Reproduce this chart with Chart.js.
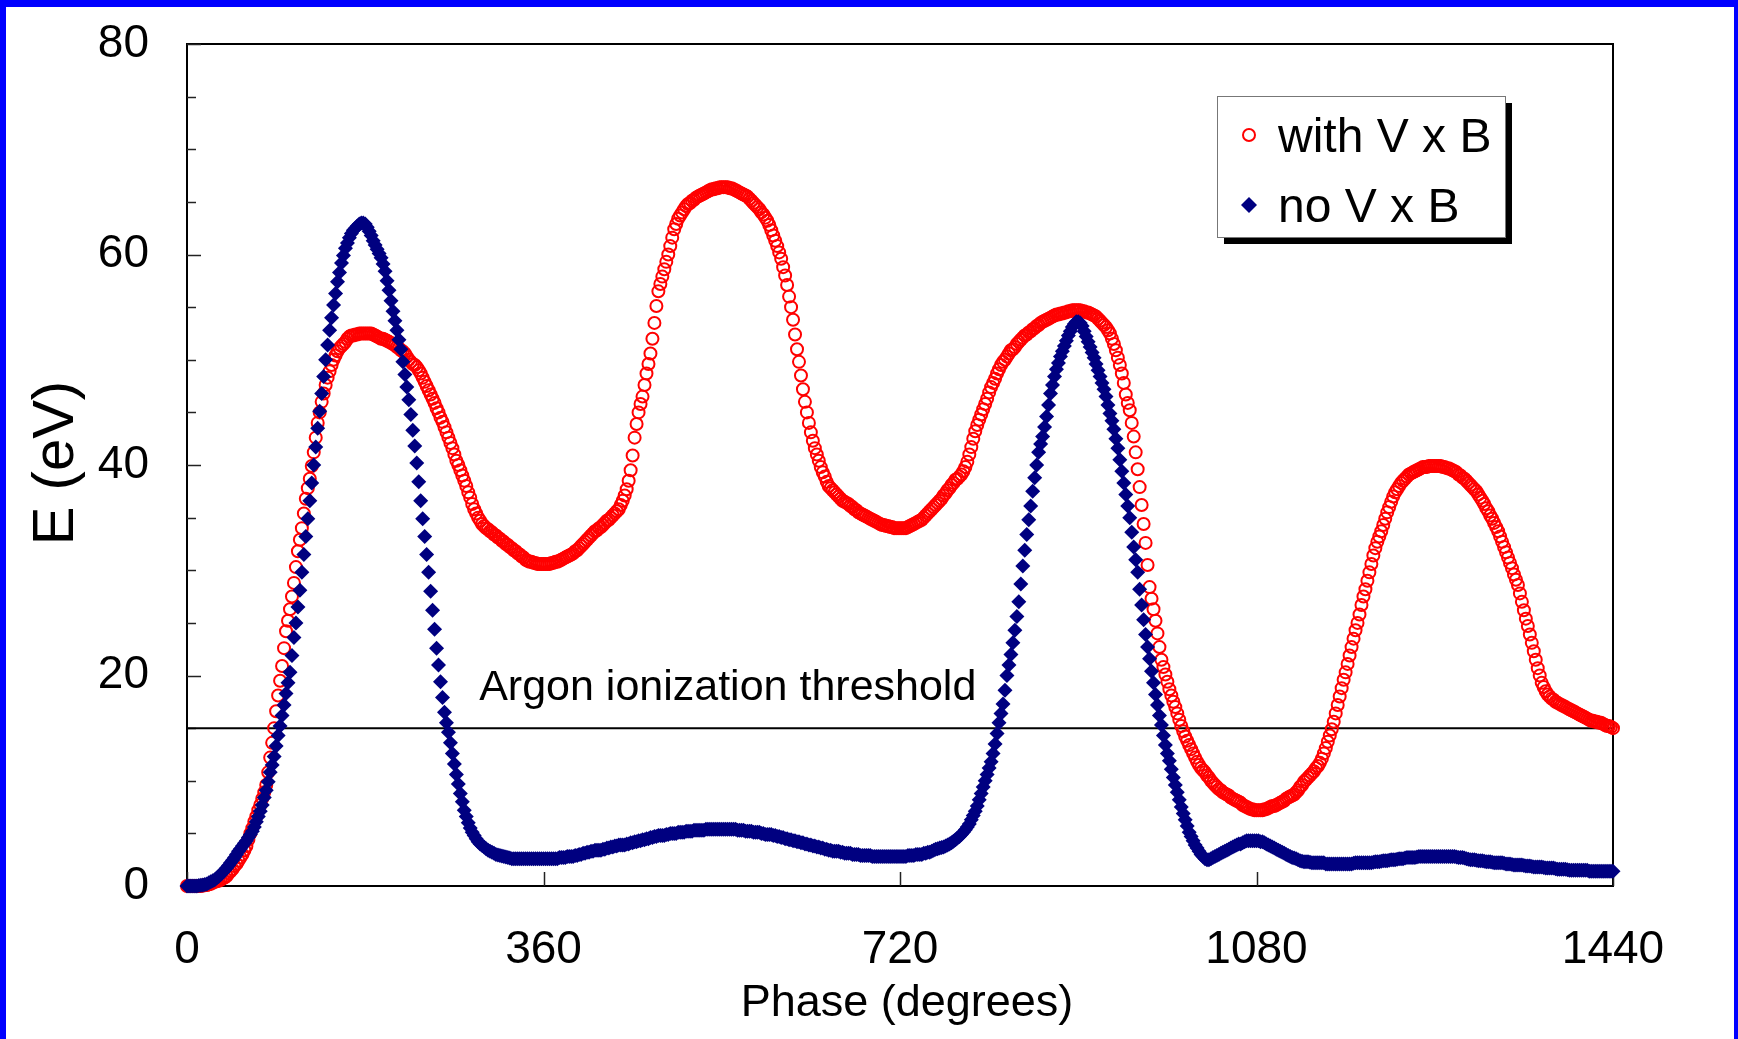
<!DOCTYPE html>
<html>
<head>
<meta charset="utf-8">
<script src="https://cdn.jsdelivr.net/npm/chart.js@4.4.1/dist/chart.umd.min.js"></script>
<style>
  html, body { margin: 0; padding: 0; background: #fff; }
  #wrap { position: relative; width: 1738px; height: 1039px; overflow: hidden; }
  #frame { position: absolute; left: 0; top: 0; right: 0; bottom: 0; box-sizing: border-box;
           border-top: 7px solid #0000ff; border-left: 6px solid #0000ff; border-right: 4px solid #0000ff;
           pointer-events: none; }
</style>
</head>
<body>
<div id="wrap">
  <canvas id="chart" width="1738" height="1039"></canvas>
  <div id="frame"></div>
</div>
<script>
// energy (eV) every 2 degrees of phase, 0..1440 (10 values = 20 degrees per row)
var phaseStep = 2;

var withVxB = [
  0, 0, 0, 0, 0, 0, 0, 0, 0.05, 0.07,                         // 0
  0.1, 0.15, 0.2, 0.3, 0.4, 0.45, 0.5, 0.6, 0.7, 0.8,         // 20
  0.95, 1.2, 1.4, 1.6, 1.9, 2.1, 2.4, 2.7, 3.0, 3.4,          // 40
  3.8, 4.4, 5.0, 5.5, 6.1, 6.6, 7.2, 7.7, 8.3, 8.9,           // 60
  9.6, 10.8, 12.2, 13.6, 15.0, 16.6, 18.1, 19.5, 20.9, 22.6,  // 80
  24.2, 25.2, 26.3, 27.5, 28.8, 30.3, 31.8, 32.9, 34.0, 35.4, // 100
  36.8, 37.8, 38.7, 39.9, 41.2, 42.6, 44.0, 45.0, 46.0, 46.8, // 120
  47.6, 48.3, 48.9, 49.5, 50.0, 50.4, 50.8, 51.1, 51.3, 51.5, // 140
  51.7, 52.0, 52.2, 52.3, 52.3, 52.4, 52.4, 52.5, 52.5, 52.5, // 160
  52.5, 52.5, 52.5, 52.5, 52.4, 52.3, 52.2, 52.1, 52.0, 52.0, // 180
  51.9, 51.8, 51.7, 51.6, 51.5, 51.4, 51.2, 51.1, 50.9, 50.8, // 200
  50.6, 50.3, 50.0, 49.8, 49.6, 49.5, 49.3, 49.0, 48.7, 48.3, // 220
  47.9, 47.5, 47.1, 46.7, 46.3, 45.9, 45.4, 45.0, 44.5, 44.1, // 240
  43.6, 43.1, 42.6, 42.1, 41.6, 41.0, 40.4, 40.0, 39.5, 39.0, // 260
  38.5, 38.0, 37.4, 36.9, 36.3, 35.8, 35.4, 35.0, 34.7, 34.4, // 280
  34.2, 34.0, 33.9, 33.7, 33.6, 33.4, 33.3, 33.1, 33.0, 32.8, // 300
  32.7, 32.5, 32.4, 32.2, 32.1, 31.9, 31.8, 31.6, 31.5, 31.3, // 320
  31.2, 31.0, 30.9, 30.8, 30.8, 30.7, 30.7, 30.6, 30.6, 30.6, // 340
  30.6, 30.6, 30.6, 30.6, 30.7, 30.7, 30.8, 30.8, 30.9, 31.0, // 360
  31.1, 31.2, 31.3, 31.4, 31.5, 31.6, 31.8, 31.9, 32.1, 32.3, // 380
  32.5, 32.7, 32.9, 33.1, 33.3, 33.5, 33.7, 33.8, 34.0, 34.1, // 400
  34.3, 34.5, 34.7, 34.8, 35.0, 35.2, 35.4, 35.6, 35.8, 36.2, // 420
  36.6, 37.1, 37.7, 38.5, 39.5, 40.9, 42.6, 43.9, 45.0, 45.8, // 440
  46.5, 47.6, 48.7, 49.6, 50.6, 52.0, 53.5, 55.1, 56.5, 57.2, // 460
  57.9, 58.6, 59.3, 60.0, 60.8, 61.6, 62.4, 62.9, 63.4, 63.7, // 480
  64.0, 64.3, 64.6, 64.8, 64.9, 65.1, 65.2, 65.4, 65.5, 65.6, // 500
  65.7, 65.8, 65.9, 66.0, 66.1, 66.2, 66.2, 66.3, 66.3, 66.4, // 520
  66.4, 66.4, 66.4, 66.4, 66.3, 66.3, 66.2, 66.1, 66.0, 65.9, // 540
  65.8, 65.7, 65.6, 65.5, 65.3, 65.1, 64.9, 64.7, 64.5, 64.3, // 560
  64.0, 63.8, 63.5, 63.2, 62.8, 62.3, 61.8, 61.3, 60.8, 60.2, // 580
  59.6, 58.8, 58.0, 57.1, 56.0, 55.0, 53.8, 52.4, 51.0, 49.8, // 600
  48.5, 47.2, 46.0, 45.0, 44.0, 43.1, 42.3, 41.6, 41.0, 40.4, // 620
  39.8, 39.3, 38.9, 38.4, 38.0, 37.8, 37.6, 37.4, 37.2, 37.0, // 640
  36.8, 36.6, 36.5, 36.4, 36.3, 36.1, 36.0, 35.8, 35.7, 35.5, // 660
  35.4, 35.3, 35.2, 35.1, 35.0, 34.9, 34.8, 34.7, 34.6, 34.5, // 680
  34.4, 34.3, 34.3, 34.2, 34.2, 34.1, 34.1, 34.0, 34.0, 34.0, // 700
  34.0, 34.0, 34.0, 34.0, 34.1, 34.2, 34.3, 34.4, 34.5, 34.6, // 720
  34.7, 34.8, 35.0, 35.2, 35.4, 35.6, 35.8, 36.0, 36.2, 36.4, // 740
  36.6, 36.8, 37.1, 37.3, 37.6, 37.8, 38.1, 38.3, 38.6, 38.7, // 760
  38.9, 39.1, 39.4, 39.8, 40.3, 41.0, 41.7, 42.5, 43.2, 43.8, // 780
  44.3, 44.8, 45.3, 45.8, 46.3, 46.9, 47.4, 47.8, 48.2, 48.7, // 800
  49.1, 49.5, 49.8, 50.0, 50.3, 50.6, 50.9, 51.0, 51.2, 51.5, // 820
  51.7, 51.9, 52.1, 52.3, 52.4, 52.6, 52.7, 52.9, 53.0, 53.2, // 840
  53.3, 53.5, 53.6, 53.7, 53.8, 53.9, 54.0, 54.1, 54.2, 54.3, // 860
  54.3, 54.4, 54.4, 54.5, 54.5, 54.6, 54.6, 54.7, 54.7, 54.7, // 880
  54.7, 54.7, 54.6, 54.6, 54.5, 54.5, 54.4, 54.3, 54.2, 54.1, // 900
  53.9, 53.7, 53.5, 53.3, 53.1, 52.8, 52.5, 52.0, 51.5, 50.9, // 920
  50.2, 49.5, 48.7, 47.8, 46.7, 45.9, 45.2, 44.0, 42.7, 41.2, // 940
  39.6, 37.9, 36.2, 34.4, 32.6, 30.5, 28.4, 27.3, 26.3, 25.2, // 960
  24.0, 22.7, 21.5, 20.8, 20.1, 19.4, 18.7, 18.1, 17.5, 17.0, // 980
  16.4, 15.8, 15.2, 14.7, 14.2, 13.8, 13.4, 13.0, 12.6, 12.2, // 1000
  11.8, 11.5, 11.2, 11.0, 10.8, 10.5, 10.3, 10.0, 9.8, 9.6,   // 1020
  9.4, 9.2, 9.1, 8.9, 8.8, 8.7, 8.6, 8.4, 8.3, 8.2,           // 1040
  8.1, 8.0, 7.9, 7.7, 7.6, 7.5, 7.4, 7.3, 7.3, 7.2,           // 1060
  7.2, 7.2, 7.2, 7.2, 7.3, 7.3, 7.4, 7.5, 7.6, 7.6,           // 1080
  7.7, 7.8, 7.9, 8.0, 8.1, 8.3, 8.4, 8.5, 8.6, 8.7,           // 1100
  8.9, 9.1, 9.4, 9.6, 9.9, 10.1, 10.3, 10.5, 10.7, 10.9,      // 1120
  11.2, 11.4, 11.7, 12.1, 12.6, 13.1, 13.7, 14.3, 14.9, 15.6, // 1140
  16.4, 17.2, 18.0, 18.8, 19.6, 20.3, 21.1, 21.9, 22.7, 23.5, // 1160
  24.3, 25.0, 25.8, 26.7, 27.5, 28.2, 29.0, 29.8, 30.6, 31.4, // 1180
  32.1, 32.7, 33.2, 33.7, 34.3, 34.9, 35.5, 36.0, 36.5, 37.0, // 1200
  37.4, 37.7, 38.0, 38.3, 38.5, 38.7, 38.9, 39.1, 39.2, 39.3, // 1220
  39.4, 39.5, 39.6, 39.7, 39.8, 39.8, 39.8, 39.9, 39.9, 39.9, // 1240
  39.9, 39.9, 39.9, 39.9, 39.8, 39.8, 39.7, 39.7, 39.6, 39.5, // 1260
  39.4, 39.3, 39.1, 39.0, 38.8, 38.7, 38.5, 38.3, 38.1, 37.9, // 1280
  37.7, 37.5, 37.2, 36.9, 36.6, 36.3, 35.9, 35.6, 35.2, 34.9, // 1300
  34.5, 34.1, 33.7, 33.2, 32.7, 32.2, 31.7, 31.2, 30.7, 30.2, // 1320
  29.6, 29.1, 28.6, 27.8, 27.0, 26.2, 25.4, 24.7, 23.9, 23.1, // 1340
  22.3, 21.5, 20.7, 20.0, 19.3, 18.9, 18.5, 18.2, 18.0, 17.8, // 1360
  17.7, 17.5, 17.4, 17.3, 17.2, 17.1, 17.0, 16.9, 16.8, 16.7, // 1380
  16.6, 16.5, 16.4, 16.3, 16.2, 16.1, 16.0, 15.9, 15.8, 15.7, // 1400
  15.7, 15.6, 15.6, 15.5, 15.5, 15.4, 15.3, 15.2, 15.2, 15.1, // 1420
  15.0                                                        // 1440
];

var noVxB = [
  0, 0, 0, 0, 0, 0, 0.05, 0.07, 0.1, 0.15,                    // 0
  0.2, 0.3, 0.4, 0.5, 0.6, 0.75, 0.9, 1.1, 1.3, 1.5,          // 20
  1.7, 1.95, 2.2, 2.45, 2.7, 3.0, 3.3, 3.55, 3.8, 4.05,       // 40
  4.3, 4.6, 4.9, 5.2, 5.6, 6.1, 6.6, 7.1, 7.7, 8.4,           // 60
  9.1, 9.9, 10.8, 11.5, 12.3, 13.3, 14.3, 15.2, 16.2, 17.2,   // 80
  18.3, 19.3, 20.3, 21.9, 23.6, 25.0, 26.5, 28.1, 29.8, 31.5, // 100
  33.2, 34.9, 36.6, 38.3, 40.0, 41.7, 43.5, 45.1, 46.8, 48.4, // 120
  50.0, 51.4, 52.8, 54.0, 55.2, 56.3, 57.4, 58.3, 59.2, 59.9, // 140
  60.6, 61.1, 61.6, 62.0, 62.3, 62.5, 62.7, 62.9, 63.0, 63.0, // 160
  62.9, 62.6, 62.2, 61.8, 61.3, 60.9, 60.5, 60.1, 59.7, 59.1, // 180
  58.4, 57.5, 56.6, 55.6, 54.6, 53.7, 52.8, 51.9, 51.0, 49.8, // 200
  48.6, 47.4, 46.2, 44.8, 43.3, 41.8, 40.2, 38.4, 36.6, 34.9, // 220
  33.2, 31.5, 29.8, 28.0, 26.2, 24.4, 22.6, 21.0, 19.4, 17.9, // 240
  16.5, 15.5, 14.6, 13.6, 12.6, 11.6, 10.6, 9.7, 8.8, 8.0,    // 260
  7.2, 6.6, 6.0, 5.5, 5.1, 4.8, 4.5, 4.2, 4.0, 3.85,          // 280
  3.7, 3.55, 3.4, 3.3, 3.2, 3.1, 3.0, 2.95, 2.9, 2.85,        // 300
  2.8, 2.75, 2.7, 2.65, 2.6, 2.6, 2.6, 2.6, 2.6, 2.6,         // 320
  2.6, 2.6, 2.6, 2.6, 2.6, 2.6, 2.6, 2.6, 2.6, 2.6,           // 340
  2.6, 2.6, 2.6, 2.6, 2.6, 2.6, 2.6, 2.6, 2.7, 2.7,           // 360
  2.7, 2.7, 2.8, 2.8, 2.8, 2.8, 2.9, 2.9, 3.0, 3.0,           // 380
  3.1, 3.1, 3.2, 3.2, 3.3, 3.3, 3.4, 3.4, 3.4, 3.4,           // 400
  3.5, 3.5, 3.6, 3.6, 3.7, 3.7, 3.8, 3.8, 3.9, 3.9,           // 420
  3.9, 3.9, 4.0, 4.0, 4.1, 4.1, 4.2, 4.2, 4.3, 4.3,           // 440
  4.4, 4.4, 4.5, 4.5, 4.6, 4.6, 4.7, 4.7, 4.8, 4.8,           // 460
  4.8, 4.8, 4.9, 4.9, 5.0, 5.0, 5.0, 5.0, 5.1, 5.1,           // 480
  5.1, 5.1, 5.2, 5.2, 5.2, 5.2, 5.3, 5.3, 5.3, 5.3,           // 500
  5.3, 5.3, 5.4, 5.4, 5.4, 5.4, 5.4, 5.4, 5.4, 5.4,           // 520
  5.4, 5.4, 5.4, 5.4, 5.4, 5.4, 5.4, 5.4, 5.3, 5.3,           // 540
  5.3, 5.3, 5.2, 5.2, 5.2, 5.2, 5.1, 5.1, 5.1, 5.1,           // 560
  5.0, 5.0, 4.9, 4.9, 4.9, 4.9, 4.8, 4.8, 4.7, 4.7,           // 580
  4.6, 4.6, 4.5, 4.5, 4.4, 4.4, 4.3, 4.3, 4.2, 4.2,           // 600
  4.1, 4.1, 4.0, 4.0, 3.9, 3.9, 3.8, 3.8, 3.7, 3.7,           // 620
  3.6, 3.6, 3.5, 3.5, 3.4, 3.4, 3.3, 3.3, 3.3, 3.3,           // 640
  3.2, 3.2, 3.1, 3.1, 3.1, 3.1, 3.0, 3.0, 3.0, 3.0,           // 660
  2.9, 2.9, 2.9, 2.9, 2.9, 2.9, 2.8, 2.8, 2.8, 2.8,           // 680
  2.8, 2.8, 2.8, 2.8, 2.8, 2.8, 2.8, 2.8, 2.8, 2.8,           // 700
  2.8, 2.8, 2.8, 2.8, 2.9, 2.9, 2.9, 2.9, 3.0, 3.0,           // 720
  3.0, 3.0, 3.1, 3.1, 3.2, 3.2, 3.3, 3.4, 3.5, 3.55,          // 740
  3.6, 3.65, 3.7, 3.8, 3.9, 4.0, 4.1, 4.25, 4.4, 4.55,        // 760
  4.7, 4.9, 5.1, 5.35, 5.6, 5.9, 6.3, 6.7, 7.1, 7.6,          // 780
  8.2, 8.8, 9.4, 10.0, 10.6, 11.2, 11.8, 12.6, 13.5, 14.5,    // 800
  15.5, 16.4, 17.3, 18.6, 20.0, 21.0, 22.0, 23.1, 24.3, 25.6, // 820
  27.0, 28.7, 30.4, 31.9, 33.4, 34.8, 36.1, 37.5, 38.8, 40.0, // 840
  41.2, 42.0, 42.7, 43.6, 44.6, 45.7, 46.8, 47.6, 48.4, 49.1, // 860
  49.7, 50.3, 50.8, 51.3, 51.8, 52.3, 52.7, 53.1, 53.4, 53.6, // 880
  53.6, 53.5, 53.2, 52.7, 52.2, 51.7, 51.2, 50.7, 50.2, 49.6, // 900
  49.0, 48.4, 47.8, 47.2, 46.5, 45.7, 44.9, 44.2, 43.4, 42.5, // 920
  41.6, 40.5, 39.4, 38.3, 37.2, 36.1, 35.0, 33.6, 32.2, 31.0, // 940
  29.8, 28.2, 26.7, 25.3, 23.9, 22.7, 21.6, 20.4, 19.3, 18.2, // 960
  17.2, 16.2, 15.3, 14.3, 13.4, 12.6, 11.9, 11.1, 10.3, 9.6,  // 980
  8.9, 8.2, 7.5, 6.9, 6.3, 5.7, 5.1, 4.7, 4.3, 3.9,           // 1000
  3.6, 3.3, 3.0, 2.8, 2.6, 2.5, 2.5, 2.6, 2.7, 2.8,           // 1020
  2.9, 3.0, 3.1, 3.2, 3.3, 3.4, 3.5, 3.6, 3.7, 3.8,           // 1040
  3.9, 4.0, 4.0, 4.1, 4.2, 4.3, 4.3, 4.3, 4.3, 4.3,           // 1060
  4.3, 4.3, 4.2, 4.2, 4.1, 4.0, 3.9, 3.8, 3.7, 3.6,           // 1080
  3.5, 3.4, 3.3, 3.2, 3.1, 3.0, 2.9, 2.8, 2.7, 2.65,          // 1100
  2.6, 2.5, 2.4, 2.35, 2.3, 2.3, 2.3, 2.25, 2.2, 2.2,         // 1120
  2.2, 2.2, 2.2, 2.2, 2.2, 2.1, 2.1, 2.1, 2.1, 2.1,           // 1140
  2.1, 2.1, 2.1, 2.1, 2.1, 2.1, 2.1, 2.1, 2.1, 2.15,          // 1160
  2.2, 2.2, 2.2, 2.2, 2.2, 2.2, 2.2, 2.2, 2.2, 2.25,          // 1180
  2.3, 2.3, 2.3, 2.35, 2.4, 2.4, 2.4, 2.45, 2.5, 2.5,         // 1200
  2.5, 2.55, 2.6, 2.6, 2.6, 2.65, 2.7, 2.7, 2.7, 2.7,         // 1220
  2.7, 2.75, 2.8, 2.8, 2.8, 2.8, 2.8, 2.8, 2.8, 2.8,          // 1240
  2.8, 2.8, 2.8, 2.8, 2.8, 2.8, 2.8, 2.8, 2.8, 2.8,           // 1260
  2.8, 2.75, 2.7, 2.7, 2.7, 2.65, 2.6, 2.55, 2.5, 2.5,        // 1280
  2.5, 2.45, 2.4, 2.4, 2.4, 2.35, 2.3, 2.3, 2.3, 2.25,        // 1300
  2.2, 2.2, 2.2, 2.2, 2.2, 2.15, 2.1, 2.1, 2.1, 2.05,         // 1320
  2.0, 2.0, 2.0, 2.0, 2.0, 1.95, 1.9, 1.9, 1.9, 1.85,         // 1340
  1.8, 1.8, 1.8, 1.8, 1.8, 1.75, 1.7, 1.7, 1.7, 1.7,          // 1360
  1.7, 1.65, 1.6, 1.6, 1.6, 1.6, 1.6, 1.55, 1.5, 1.5,         // 1380
  1.5, 1.5, 1.5, 1.5, 1.5, 1.5, 1.5, 1.5, 1.4, 1.4,           // 1400
  1.4, 1.4, 1.4, 1.4, 1.4, 1.4, 1.4, 1.4, 1.4, 1.4,           // 1420
  1.4                                                         // 1440
];

var seriesNames = ["with V x B", "no V x B"];
var thresholdEv = 15;
var thresholdLabel = "Argon ionization threshold";
var xTitle = "Phase (degrees)";
var yTitle = "E (eV)";
var xTicks = [0, 360, 720, 1080, 1440];
var yMajorStep = 20;
var yMinorStep = 5;

var fontFamily = '"Liberation Sans", Arial, sans-serif';

function toPoints(values) {
  return values.map(function(v, i) { return {x: i * phaseStep, y: v}; });
}

// frame, inward ticks, axis titles, threshold text and the boxed legend with its shadow
var decorPlugin = {
  id: 'decor',
  beforeDatasetsDraw: function(chart) {
    var ctx = chart.ctx, a = chart.chartArea, xs = chart.scales.x, ys = chart.scales.y;
    ctx.save();
    ctx.strokeStyle = '#000';
    ctx.lineWidth = 2;
    ctx.strokeRect(a.left, a.top, a.right - a.left, a.bottom - a.top);

    ctx.lineWidth = 1.5;
    ctx.strokeStyle = '#222';
    ys.ticks.forEach(function(t) {
      var py = Math.round(ys.getPixelForValue(t.value)) + 0.5;
      var len = (t.value % yMajorStep === 0) ? 14 : 9;
      ctx.beginPath(); ctx.moveTo(a.left, py); ctx.lineTo(a.left + len, py); ctx.stroke();
    });
    xTicks.forEach(function(v) {
      var px = Math.round(xs.getPixelForValue(v)) + 0.5;
      ctx.beginPath(); ctx.moveTo(px, a.bottom); ctx.lineTo(px, a.bottom - 14); ctx.stroke();
    });

    ctx.fillStyle = '#000';
    ctx.font = '43px ' + fontFamily;
    ctx.textAlign = 'left';
    ctx.textBaseline = 'alphabetic';
    ctx.fillText(thresholdLabel, xs.getPixelForValue(295), ys.getPixelForValue(thresholdEv) - 28);

    // axis titles
    ctx.textAlign = 'center';
    ctx.textBaseline = 'middle';
    ctx.font = '45px ' + fontFamily;
    ctx.fillText(xTitle, (a.left + a.right) / 2 + 7, a.bottom + 118);
    ctx.translate(a.left - 130, (a.top + a.bottom) / 2 - 2);
    ctx.rotate(-Math.PI / 2);
    ctx.font = '58px ' + fontFamily;
    ctx.fillText(yTitle, 0, 0);
    ctx.restore();
  },
  afterDraw: function(chart) {
    var ctx = chart.ctx, a = chart.chartArea;
    var bx = a.right - 396, by = a.top + 52, bw = 288, bh = 141;
    ctx.save();
    ctx.fillStyle = '#000';
    ctx.fillRect(bx + 7, by + 7, bw, bh);
    ctx.fillStyle = '#fff';
    ctx.fillRect(bx, by, bw, bh);
    ctx.strokeStyle = '#777';
    ctx.lineWidth = 1;
    ctx.strokeRect(bx + 0.5, by + 0.5, bw, bh);

    // red open circle
    ctx.strokeStyle = '#ff0000';
    ctx.lineWidth = 2;
    ctx.beginPath();
    ctx.arc(bx + 32, by + 39, 6, 0, Math.PI * 2);
    ctx.stroke();
    // navy diamond
    ctx.fillStyle = '#000080';
    ctx.beginPath();
    ctx.moveTo(bx + 32, by + 101);
    ctx.lineTo(bx + 40, by + 109);
    ctx.lineTo(bx + 32, by + 117);
    ctx.lineTo(bx + 24, by + 109);
    ctx.closePath();
    ctx.fill();

    ctx.fillStyle = '#000';
    ctx.font = '48px ' + fontFamily;
    ctx.textBaseline = 'alphabetic';
    ctx.fillText(seriesNames[0], bx + 61, by + 56);
    ctx.fillText(seriesNames[1], bx + 61, by + 126);
    ctx.restore();
  }
};

var chart = new Chart(document.getElementById('chart'), {
  type: 'scatter',
  data: {
    datasets: [
      {
        label: seriesNames[1],
        data: toPoints(noVxB),
        pointStyle: 'rectRot',
        pointRadius: 7.5,
        pointBackgroundColor: '#000080',
        pointBorderColor: '#000080',
        pointBorderWidth: 0,
        showLine: false,
        clip: false,
        order: 0
      },
      {
        label: seriesNames[0],
        data: toPoints(withVxB),
        pointStyle: 'circle',
        pointRadius: 6,
        pointBackgroundColor: 'rgba(255,255,255,0)',
        pointBorderColor: '#ff0000',
        pointBorderWidth: 2,
        showLine: false,
        clip: false,
        order: 1
      },
      {
        type: 'line',
        label: thresholdLabel,
        data: [{x: 0, y: thresholdEv}, {x: 1440, y: thresholdEv}],
        borderColor: '#000',
        borderWidth: 2,
        pointRadius: 0,
        order: 2
      }
    ]
  },
  options: {
    responsive: false,
    animation: false,
    devicePixelRatio: 1,
    layout: { padding: { left: 0, top: 44, right: 125, bottom: 0 } },
    plugins: {
      legend: { display: false },
      tooltip: { enabled: false }
    },
    scales: {
      x: {
        type: 'linear',
        min: 0,
        max: 1440,
        afterBuildTicks: function(s) { s.ticks = xTicks.map(function(v) { return {value: v}; }); },
        ticks: {
          font: { size: 46, family: fontFamily }, color: '#000', padding: 37,
          autoSkip: false, maxRotation: 0,
          callback: function(v) { return String(v); }
        },
        grid: { display: false, drawTicks: false },
        border: { display: false },
        afterFit: function(s) { s.height = 153; s.paddingLeft = 10; s.paddingRight = 10; }
      },
      y: {
        min: 0,
        max: 80,
        ticks: {
          stepSize: yMinorStep,
          autoSkip: false,
          font: { size: 46, family: fontFamily },
          color: '#000',
          padding: 38,
          callback: function(v) { return v % yMajorStep === 0 ? String(v) : ''; }
        },
        grid: { display: false, drawTicks: false },
        border: { display: false },
        afterFit: function(s) { s.width = 187; s.paddingTop = 10; s.paddingBottom = 10; }
      }
    }
  },
  plugins: [decorPlugin]
});
</script>
</body>
</html>
